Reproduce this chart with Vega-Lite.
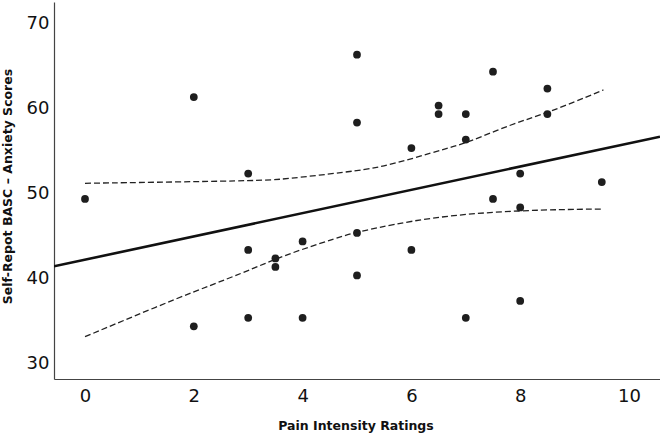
{
  "$schema": "https://vega.github.io/schema/vega-lite/v6.json",
  "autosize": "none",
  "padding": {"left": 54, "top": 2, "right": 0, "bottom": 58},
  "width": 606,
  "height": 377,
  "background": "white",
  "config": {
    "view": {"stroke": null},
    "axis": {"grid": false, "ticks": false, "domainColor": "#444", "domainWidth": 1.2,
      "labelFont": "DejaVu Sans", "labelFontSize": 18, "labelColor": "#111",
      "titleFont": "DejaVu Sans", "titleFontSize": 12.5, "titleFontWeight": "bold", "titleColor": "#111"}
  },
  "datasets": {
    "points": [
      {"pain": 0, "anxiety": 49}, {"pain": 2, "anxiety": 61}, {"pain": 3, "anxiety": 52},
      {"pain": 5, "anxiety": 66}, {"pain": 5, "anxiety": 58}, {"pain": 7.5, "anxiety": 64},
      {"pain": 8.5, "anxiety": 62}, {"pain": 6.5, "anxiety": 60}, {"pain": 6.5, "anxiety": 59},
      {"pain": 7, "anxiety": 59}, {"pain": 8.5, "anxiety": 59}, {"pain": 6, "anxiety": 55},
      {"pain": 7, "anxiety": 56}, {"pain": 8, "anxiety": 52}, {"pain": 9.5, "anxiety": 51},
      {"pain": 7.5, "anxiety": 49}, {"pain": 8, "anxiety": 48}, {"pain": 3, "anxiety": 43},
      {"pain": 3.5, "anxiety": 42}, {"pain": 3.5, "anxiety": 41}, {"pain": 4, "anxiety": 44},
      {"pain": 2, "anxiety": 34}, {"pain": 3, "anxiety": 35}, {"pain": 4, "anxiety": 35},
      {"pain": 5, "anxiety": 45}, {"pain": 6, "anxiety": 43}, {"pain": 5, "anxiety": 40},
      {"pain": 7, "anxiety": 35}, {"pain": 8, "anxiety": 37}
    ],
    "fit": [
      {"pain": -0.57, "anxiety": 41.07}, {"pain": 10.57, "anxiety": 56.34}
    ],
    "ci": [
      {"bound": "upper", "pain": 0, "anxiety": 50.85}, {"bound": "upper", "pain": 3.22, "anxiety": 51.15},
      {"bound": "upper", "pain": 3.64, "anxiety": 51.32}, {"bound": "upper", "pain": 4.87, "anxiety": 52.21},
      {"bound": "upper", "pain": 5.42, "anxiety": 52.73}, {"bound": "upper", "pain": 6.04, "anxiety": 53.79},
      {"bound": "upper", "pain": 6.65, "anxiety": 54.97}, {"bound": "upper", "pain": 7.02, "anxiety": 55.6},
      {"bound": "upper", "pain": 7.87, "anxiety": 57.9}, {"bound": "upper", "pain": 8.49, "anxiety": 59.09},
      {"bound": "upper", "pain": 9.53, "anxiety": 61.84},
      {"bound": "lower", "pain": 0, "anxiety": 32.78}, {"bound": "lower", "pain": 1.75, "anxiety": 37.49},
      {"bound": "lower", "pain": 2.97, "anxiety": 40.44}, {"bound": "lower", "pain": 3.58, "anxiety": 42.2},
      {"bound": "lower", "pain": 4.69, "anxiety": 44.56}, {"bound": "lower", "pain": 4.99, "anxiety": 45.1},
      {"bound": "lower", "pain": 6.34, "anxiety": 46.91}, {"bound": "lower", "pain": 7.99, "anxiety": 47.7},
      {"bound": "lower", "pain": 9.53, "anxiety": 47.82}
    ]
  },
  "encoding": {
    "x": {"field": "pain", "type": "quantitative",
      "scale": {"domain": [-0.57, 10.57], "nice": false, "zero": false},
      "axis": {"values": [0, 2, 4, 6, 8, 10], "labelPadding": 8, "title": "Pain Intensity Ratings",
        "titleX": 301.5, "titleY": 46, "titleBaseline": "middle", "titleAlign": "center"}},
    "y": {"field": "anxiety", "type": "quantitative",
      "scale": {"domain": [27.8, 72.2], "nice": false, "zero": false},
      "axis": {"values": [30, 40, 50, 60, 70], "labelPadding": 5, "labelOffset": 2.8,
        "title": "Self-Repot BASC \u2013 Anxiety Scores",
        "titleX": -47, "titleY": 184, "titleAngle": -90, "titleAlign": "center", "titleBaseline": "middle"}}
  },
  "layer": [
    {"data": {"name": "ci"}, "mark": {"type": "line", "color": "#222", "strokeWidth": 1.3, "strokeDash": [6, 3], "interpolate": "basis"},
      "encoding": {"detail": {"field": "bound"}}},
    {"data": {"name": "fit"}, "mark": {"type": "line", "color": "#111", "strokeWidth": 2.6, "clip": true}},
    {"data": {"name": "points"}, "mark": {"type": "circle", "color": "#1e1e1e", "opacity": 1, "size": 60}}
  ]
}
